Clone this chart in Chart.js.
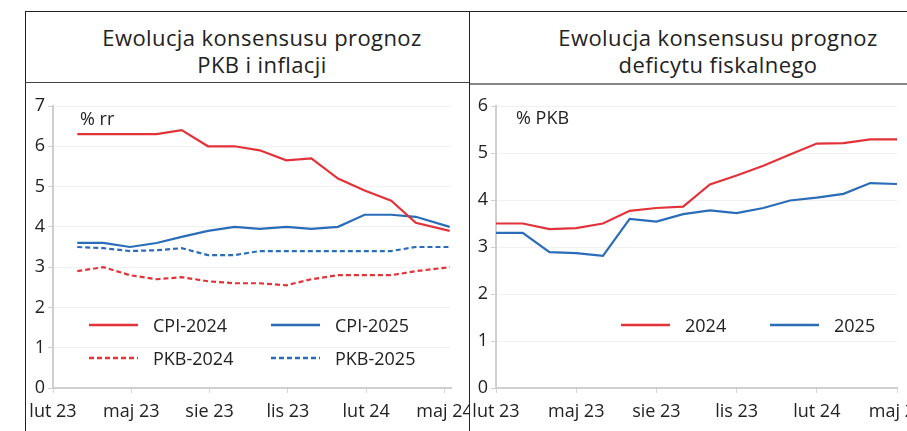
<!DOCTYPE html>
<html>
<head>
<meta charset="utf-8">
<script src="https://cdn.jsdelivr.net/npm/chart.js@4"></script>
<style>
body { margin: 0; background: #fff; font-family: "Open Sans", sans-serif; color: #222; }
#wrap { position: relative; width: 907px; height: 431px; overflow: hidden; }
.ln { position: absolute; background: #222; }
.title { position: absolute; width: 440px; text-align: center; font-size: 22px; line-height: 27px; letter-spacing: 0.4px; color: #222; }
.unit { position: absolute; font-size: 18px; line-height: 20px; }
canvas { position: absolute; }
.legend { position: absolute; font-size: 18px; }
.item { position: absolute; display: flex; align-items: center; height: 24px; white-space: nowrap; }
.item svg { margin-right: 15px; }
</style>
</head>
<body>
<div id="wrap">
  <div class="ln" style="left:25px;top:11px;width:882px;height:1px"></div>
  <div class="ln" style="left:25px;top:11px;width:1px;height:420px"></div>
  <div class="ln" style="left:469px;top:11px;width:1px;height:420px"></div>
  <div class="ln" style="left:25px;top:82px;width:444px;height:1px;background:#444"></div>
  <div class="ln" style="left:470px;top:83px;width:437px;height:2px;background:#888"></div>

  <div class="title" style="left:42px;top:24px">Ewolucja konsensusu prognoz<br>PKB i inflacji</div>
  <div class="title" style="left:498px;top:24px">Ewolucja konsensusu prognoz<br>deficytu fiskalnego</div>

  <canvas id="leftChart" style="left:26px;top:85px" width="443" height="346"></canvas>
  <canvas id="rightChart" style="left:470px;top:85px" width="437" height="346"></canvas>

  <div class="unit" style="left:80px;top:108px">% rr</div>
  <div class="unit" style="left:516px;top:107px">% PKB</div>

  <div class="legend" id="leftLegend"></div>
  <div class="legend" id="rightLegend"></div>
</div>

<script>
// x axis: months counted from lut 23
const tickMonths = [0, 3, 6, 9, 12, 15]
const tickLabels = ['lut 23', 'maj 23', 'sie 23', 'lis 23', 'lut 24', 'maj 24']

// left panel: PKB i inflacja
const leftMonths = [0.93, 1.93, 2.95, 3.97, 4.93, 5.94, 6.96, 7.92, 8.94, 9.9, 10.92, 11.94, 12.96, 13.9, 15.2]
const cpi2024 = [6.3, 6.3, 6.3, 6.3, 6.4, 6.0, 6.0, 5.9, 5.65, 5.7, 5.2, 4.9, 4.65, 4.1, 3.9]
const cpi2025 = [3.6, 3.6, 3.5, 3.6, 3.75, 3.9, 4.0, 3.95, 4.0, 3.95, 4.0, 4.3, 4.3, 4.25, 4.0]
const pkb2024 = [2.9, 3.0, 2.8, 2.7, 2.75, 2.65, 2.6, 2.6, 2.55, 2.7, 2.8, 2.8, 2.8, 2.9, 3.0]
const pkb2025 = [3.5, 3.47, 3.4, 3.42, 3.47, 3.3, 3.3, 3.4, 3.4, 3.4, 3.4, 3.4, 3.4, 3.5, 3.5]

// right panel: deficyt fiskalny
const rightMonths = [0, 1, 2, 3, 4, 5, 6, 7, 8, 9, 10, 11, 12, 13, 14, 15]
const def2024 = [3.5, 3.5, 3.38, 3.4, 3.5, 3.77, 3.83, 3.86, 4.33, 4.52, 4.73, 4.97, 5.2, 5.21, 5.29, 5.29]
const def2025 = [3.3, 3.3, 2.89, 2.87, 2.81, 3.6, 3.54, 3.7, 3.78, 3.72, 3.83, 3.99, 4.05, 4.13, 4.36, 4.34]

const RED = '#e2333b'
const BLUE = '#2a6cb8'
const FONT = { family: '"Open Sans", sans-serif', size: 18 }

const points = (xs, ys) => xs.map((x, i) => ({ x: x, y: ys[i] }))

const line = (label, xs, ys, color, dashed) => ({
    label: label,
    data: points(xs, ys),
    borderColor: color,
    backgroundColor: color,
    borderWidth: 2.2,
    borderDash: dashed ? [5, 3] : [],
    pointRadius: 0,
    tension: 0,
    fill: false
})

const makeChart = (id, datasets, xMax, yMax, axisWidth, padRight) => new Chart(document.getElementById(id), {
    type: 'line',
    data: { datasets: datasets },
    options: {
        responsive: false,
        animation: false,
        layout: { padding: { top: 21, right: padRight, left: 0, bottom: 0 } },
        plugins: { legend: { display: false }, tooltip: { enabled: false } },
        scales: {
            x: {
                type: 'linear',
                min: 0,
                max: xMax,
                afterBuildTicks: scale => { scale.ticks = tickMonths.map(v => ({ value: v })) },
                afterFit: scale => { scale.height = 43; scale.paddingLeft = 0; scale.paddingRight = 0 },
                grid: { drawOnChartArea: false, drawTicks: true, tickLength: 5, color: '#d4d4d4' },
                border: { color: '#cfcfcf', width: 2 },
                ticks: { callback: (v, i) => tickLabels[i], font: FONT, color: '#222', padding: 8, maxRotation: 0, autoSkip: false }
            },
            y: {
                min: 0,
                max: yMax,
                afterFit: scale => { scale.width = axisWidth; scale.paddingTop = 0; scale.paddingBottom = 0 },
                grid: { color: '#f1f1f1', tickColor: '#cfcfcf', tickLength: 5, lineWidth: 1 },
                border: { color: '#cfcfcf', width: 2 },
                ticks: { stepSize: 1, font: FONT, color: '#222', padding: 3 }
            }
        }
    }
})

const leftChart = makeChart('leftChart', [
    line('CPI-2024', leftMonths, cpi2024, RED, false),
    line('CPI-2025', leftMonths, cpi2025, BLUE, false),
    line('PKB-2024', leftMonths, pkb2024, RED, true),
    line('PKB-2025', leftMonths, pkb2025, BLUE, true)
], 15.25, 7, 27, 18)

const rightChart = makeChart('rightChart', [
    line('2024', rightMonths, def2024, RED, false),
    line('2025', rightMonths, def2025, BLUE, false)
], 15, 6, 26, 10)

// html legends built from the datasets, placed inside the plot areas
const buildLegend = (chart, boxId, slots) => {
    const box = document.getElementById(boxId)
    chart.data.datasets.forEach((ds, i) => {
        const dash = ds.borderDash.length ? ds.borderDash.join(' ') : 'none'
        const item = document.createElement('div')
        item.className = 'item'
        item.style.left = slots[i][0] + 'px'
        item.style.top = (slots[i][1] - 12) + 'px'
        item.innerHTML = `<svg width="49" height="6"><line x1="0" y1="3" x2="49" y2="3" stroke="${ds.borderColor}" stroke-width="2.6" stroke-dasharray="${dash}"/></svg><span>${ds.label}</span>`
        box.appendChild(item)
    })
}

buildLegend(leftChart, 'leftLegend', [[89, 325], [271, 325], [89, 358], [271, 358]])
buildLegend(rightChart, 'rightLegend', [[621, 325], [770, 325]])
</script>
</body>
</html>
